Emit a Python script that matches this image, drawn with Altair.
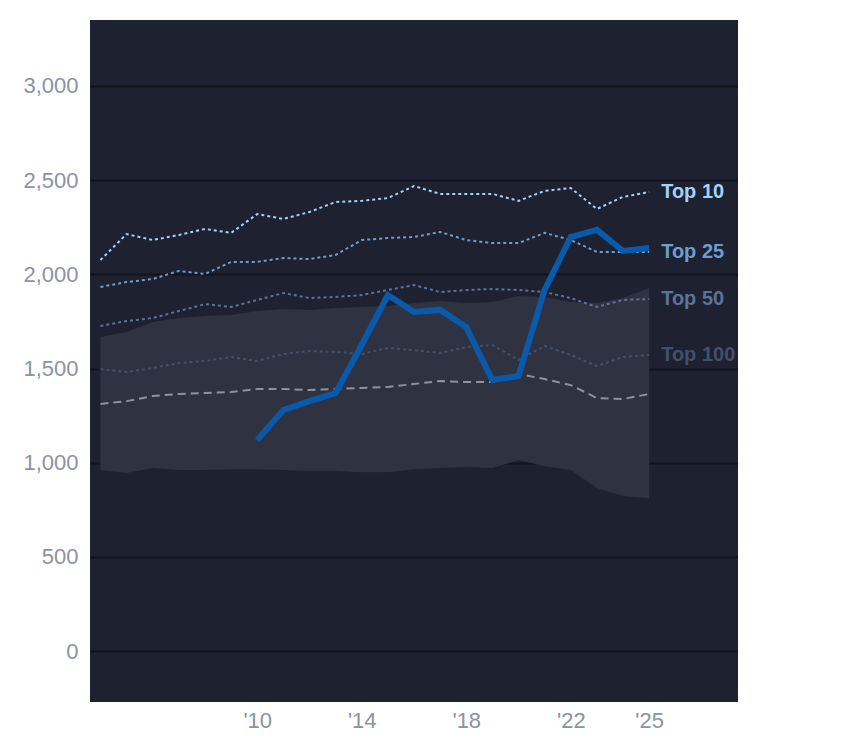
import altair as alt
import pandas as pd

years = list(range(2004, 2026))
top10 = [2076, 2214, 2182, 2209, 2241, 2220, 2320, 2294, 2331, 2384, 2390, 2405, 2469, 2427, 2427, 2427, 2390, 2443, 2458, 2347, 2411, 2437]
top25 = [1933, 1959, 1975, 2018, 2002, 2066, 2066, 2087, 2081, 2103, 2182, 2193, 2198, 2225, 2182, 2166, 2166, 2220, 2182, 2119, 2119, 2119]
top50 = [1726, 1752, 1768, 1805, 1842, 1827, 1864, 1901, 1874, 1880, 1890, 1917, 1943, 1906, 1917, 1922, 1917, 1906, 1874, 1827, 1864, 1869]
top100 = [1497, 1481, 1503, 1529, 1540, 1561, 1540, 1577, 1593, 1588, 1577, 1609, 1598, 1582, 1614, 1625, 1545, 1620, 1572, 1513, 1561, 1572]
median = [1312, 1327, 1354, 1365, 1370, 1375, 1391, 1391, 1386, 1391, 1397, 1402, 1418, 1434, 1428, 1428, 1471, 1444, 1412, 1343, 1338, 1365]
band_hi = [1667, 1694, 1747, 1768, 1779, 1784, 1805, 1816, 1811, 1821, 1827, 1832, 1848, 1858, 1848, 1853, 1885, 1880, 1853, 1848, 1874, 1927]
band_lo = [961, 945, 972, 961, 961, 966, 966, 961, 956, 956, 950, 950, 966, 972, 977, 972, 1014, 982, 961, 866, 823, 812]
player_years = list(range(2010, 2026))
player = [1120, 1280, 1327, 1370, 1625, 1890, 1800, 1811, 1720, 1439, 1460, 1917, 2198, 2236, 2124, 2140]

series = {"Top 10": top10, "Top 25": top25, "Top 50": top50, "Top 100": top100}
colors = {"Top 10": "#a3d2ff", "Top 25": "#6e9dd0", "Top 50": "#5a7399", "Top 100": "#43506b"}
tick_years = [2010, 2012, 2014, 2016, 2018, 2020, 2022, 2024, 2025]

xs = alt.Scale(domain=[2003.6, 2028.4], nice=False, zero=False)
ys = alt.Scale(domain=[-270, 3350], nice=False, zero=False)
X = alt.X("year:Q", scale=xs, title=None,
          axis=alt.Axis(values=tick_years, labelExpr="\"'\" + slice(toString(datum.value), 2)",
                        grid=False, ticks=False, domain=False, labelFontSize=22,
                        labelColor="#8a93a5", labelPadding=8))

band_df = pd.DataFrame({"year": years, "lo": band_lo, "hi": band_hi})
band = alt.Chart(band_df).mark_area(color="#2f3341").encode(
    x=X,
    y=alt.Y("lo:Q", scale=ys, title=None,
            axis=alt.Axis(values=list(range(0, 3001, 500)), gridColor="#12151c", gridWidth=2,
                          ticks=False, domain=False, labelFontSize=22, labelColor="#8a93a5",
                          labelPadding=12)),
    y2="hi:Q",
)

layers = [band]
for name, vals in series.items():
    df = pd.DataFrame({"year": years, "v": vals})
    layers.append(alt.Chart(df).mark_line(color=colors[name], strokeWidth=2, strokeDash=[3, 3]).encode(
        x=X, y=alt.Y("v:Q", scale=ys)))
    last = pd.DataFrame({"year": [years[-1]], "v": [vals[-1]], "t": [name]})
    layers.append(alt.Chart(last).mark_text(align="left", dx=12, fontSize=20, fontWeight="bold",
                                           color=colors[name], font="Arial").encode(
        x=X, y=alt.Y("v:Q", scale=ys), text="t:N"))

med_df = pd.DataFrame({"year": years, "v": median})
layers.append(alt.Chart(med_df).mark_line(color="#8e929c", strokeWidth=2, strokeDash=[8, 5]).encode(
    x=X, y=alt.Y("v:Q", scale=ys)))

pl_df = pd.DataFrame({"year": player_years, "v": player})
layers.append(alt.Chart(pl_df).mark_line(color="#0a5aab", strokeWidth=6).encode(
    x=X, y=alt.Y("v:Q", scale=ys)))

chart = alt.layer(*layers).properties(
    width=648, height=682, autosize=alt.AutoSizeParams(type="none"),
    padding={"left": 82, "top": 12, "right": 0, "bottom": 40},
).configure_view(fill="#1d2130", stroke=None).configure_axis(labelFont="Arial")

chart.save("out.html", embed_options={"renderer": "svg", "actions": False})
